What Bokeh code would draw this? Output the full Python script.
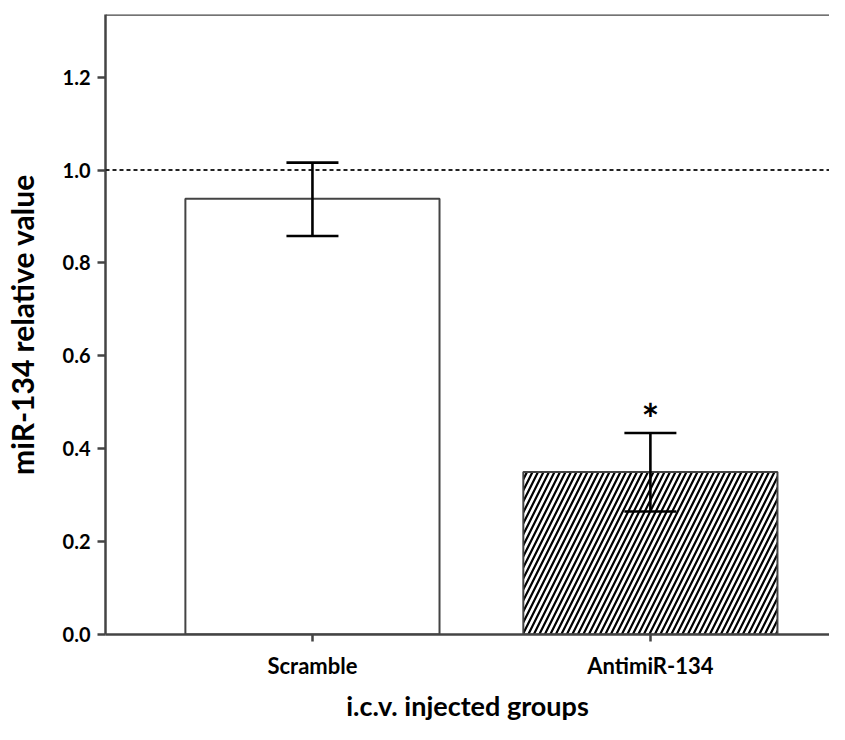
from bokeh.plotting import figure
from bokeh.models import ColumnDataSource, Whisker, TeeHead, Span, FixedTicker, Range1d, NumeralTickFormatter
from bokeh.core.properties import value
from bokeh.embed import file_html
from bokeh.resources import INLINE

categories = ["Scramble", "AntimiR-134"]
means = [0.938, 0.350]
err_upper = [1.016, 0.434]
err_lower = [0.858, 0.265]
hatches = ["blank", "/"]
stars = ["", "*"]
y_ticks = [0.0, 0.2, 0.4, 0.6, 0.8, 1.0, 1.2]
reference_level = 1.0

xs = [i + 1 for i in range(len(categories))]
src = ColumnDataSource(dict(x=xs, top=means, up=err_upper, lo=err_lower,
                            hatch=hatches, star=stars))

FONT = "Lato"
Y_END = 1.335
p = figure(width=829, height=724, output_backend="svg", toolbar_location=None,
           x_range=Range1d(0.3876, 2.53), y_range=Range1d(0, Y_END),
           min_border_left=105, min_border_top=14, min_border_bottom=90, min_border_right=0)
p.outline_line_color = None
p.grid.visible = False
p.background_fill_color = "white"

p.vbar(x="x", top="top", width=0.752, source=src, fill_color="white",
       line_color="#444444", line_width=2, hatch_pattern="hatch", hatch_color="black",
       hatch_scale=11, hatch_weight=2.2)

w = Whisker(base="x", upper="up", lower="lo", source=src,
            line_color="black", line_width=2.6, level="overlay",
            upper_head=TeeHead(size=52, line_width=2.6, line_color="black"),
            lower_head=TeeHead(size=52, line_width=2.6, line_color="black"))
p.add_layout(w)

p.text(x="x", y="up", text="star", source=src, text_font=value(FONT),
       text_font_style="bold", text_font_size="42px", text_align="center",
       text_baseline="middle", y_offset=-14, text_color="black")

p.add_layout(Span(location=reference_level, dimension="width", line_color="#222222",
                  line_width=2, line_dash="4 3"))
p.add_layout(Span(location=Y_END, dimension="width", line_color="#444444", line_width=2.5))

p.yaxis.ticker = FixedTicker(ticks=y_ticks)
p.yaxis.formatter = NumeralTickFormatter(format="0.0")
p.xaxis.ticker = FixedTicker(ticks=xs)
p.xaxis.major_label_overrides = {x: c for x, c in zip(xs, categories)}

for ax in (p.xaxis, p.yaxis):
    ax.axis_line_color = "#444444"
    ax.axis_line_width = 2.5
    ax.major_tick_line_color = "#444444"
    ax.major_tick_line_width = 2.5
    ax.major_tick_in = 0
    ax.minor_tick_line_color = None
    ax.major_label_text_font = FONT
    ax.major_label_text_font_style = "bold"
    ax.major_label_text_color = "black"
    ax.axis_label_text_font = FONT
    ax.axis_label_text_font_style = "bold"
    ax.axis_label_text_color = "black"

p.yaxis.major_tick_out = 8
p.xaxis.major_tick_out = 7
p.yaxis.major_label_text_font_size = "20px"
p.xaxis.major_label_text_font_size = "22px"
p.yaxis.major_label_standoff = 7
p.xaxis.major_label_standoff = 10
p.yaxis.axis_label = "miR-134 relative value"
p.xaxis.axis_label = "i.c.v. injected groups"
p.yaxis.axis_label_text_font_size = "30px"
p.xaxis.axis_label_text_font_size = "27px"
p.yaxis.axis_label_standoff = 20
p.xaxis.axis_label_standoff = 7

open("out.html", "w").write(file_html(p, INLINE))
